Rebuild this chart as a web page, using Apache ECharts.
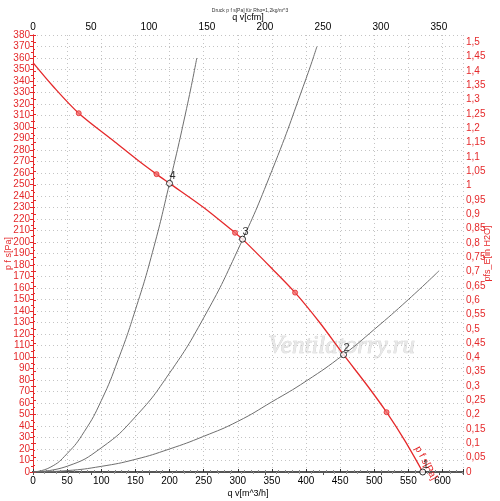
<!DOCTYPE html>
<html>
<head>
<meta charset="utf-8">
<script src="https://cdn.jsdelivr.net/npm/echarts@6/dist/echarts.min.js"></script>
<style>
  html, body { margin: 0; padding: 0; background: #fff; }
  #chart { width: 500px; height: 501px; }
</style>
</head>
<body>
<div id="chart"></div>
<script>
// Fan curve p f s [Pa] against q v [m^3/h]
var fanQ = [0, 30, 67, 120, 156, 181, 200, 250, 296, 307, 350, 384, 420, 455, 490, 518, 545, 571];
var fanP = [356, 335, 312, 287, 270, 259, 251, 230, 208, 202.5, 177, 156, 130, 102, 75, 52, 27, 0];

// measured points drawn on the fan curve
var markQ = [67, 181, 296, 384, 518];
var markP = [312, 259, 208, 156, 52];

// system curves (grey)
var sysAQ = [0, 25, 50, 75, 100, 125, 150, 175, 200, 225, 240];
var sysAP = [0, 4, 16, 35, 62, 98, 141, 191, 251, 316, 360];
var sysBQ = [0, 50, 100, 150, 200, 250, 300, 350, 400, 416];
var sysBP = [0, 5, 21, 48, 86, 134, 193, 262, 342, 370];
var sysCQ = [0, 50, 100, 150, 200, 250, 300, 350, 400, 455, 500, 550, 595];
var sysCP = [0, 1.2, 4.9, 11, 20, 31, 44, 61, 79, 102, 124, 150, 175];

// operating points
var opLabels = ["1", "2", "3", "4"];
var opQ = [571, 455, 307, 200];
var opP = [0, 102, 202.5, 251];

var qMax = 630;         // m^3/h
var pMax = 380;         // Pa
var cfmPerM3h = 1 / 1.699;
var paPerInH2O = 249.089;

var red = "#e5292b";

function pairs(xs, ys) {
    var out = [];
    for (var i = 0; i < xs.length; i++) {
        out.push([xs[i], ys[i]]);
    }
    return out;
}

var fanData = pairs(fanQ, fanP);
// put the curve name along the line near its end
fanData[16] = {
    value: fanData[16],
    label: {
        show: true, formatter: "p f s[Pa]", rotate: -62, color: red,
        fontSize: 10, fontFamily: "Liberation Sans", position: "right", distance: 0, offset: [11, -8]
    }
};

var opData = [];
for (var i = 0; i < opQ.length; i++) {
    opData.push({ value: [opQ[i], opP[i]], name: opLabels[i] });
}

var greyLine = { color: "#6e6e6e", width: 1 };
var font = "Liberation Sans";

var chart = echarts.init(document.getElementById("chart"));
chart.setOption({
    animation: false,
    backgroundColor: "#fff",
    title: {
        text: "Druck p f s[Pa] für Rho=1,2kg/m^3",
        left: 245, top: 3, textAlign: "center",
        textStyle: { fontSize: 5, fontWeight: "normal", color: "#333", fontFamily: font }
    },
    grid: { left: 33, right: 37, top: 35, bottom: 29, containLabel: false, outerBoundsMode: "none" },
    graphic: [{
        type: "text",
        left: 268, top: 334, silent: true,
        style: {
            text: "Ventilatorry.ru",
            font: "italic 25px 'Liberation Serif'",
            fill: "#e8e8e8", stroke: "#cfcfcf", lineWidth: 0.7
        }
    }],
    xAxis: [{
        type: "value", position: "bottom",
        min: 0, max: qMax, interval: 50,
        name: "q v[m^3/h]", nameLocation: "middle", nameGap: 17, nameMoveOverlap: false,
        nameTextStyle: { fontSize: 9, color: "#000", fontFamily: font },
        axisLine: { lineStyle: { color: "#111", width: 2 } },
        axisTick: { inside: true, length: 3, lineStyle: { color: "#333" } },
        minorTick: { show: true, splitNumber: 5, length: 2, lineStyle: { color: "#888" } },
        axisLabel: { fontSize: 10, color: "#000", margin: 4, fontFamily: font, showMaxLabel: false },
        splitLine: { show: true, lineStyle: { color: "#c4c4c4", type: [1, 3], width: 1 } }
    }, {
        type: "value", position: "top",
        min: 0, max: qMax * cfmPerM3h, interval: 50,
        name: "q v[cfm]", nameLocation: "middle", nameGap: 13, nameMoveOverlap: false,
        nameTextStyle: { fontSize: 9, color: "#000", fontFamily: font },
        axisLine: { lineStyle: { color: "#555", width: 2 } },
        axisTick: { inside: true, length: 3, lineStyle: { color: "#555" } },
        minorTick: { show: true, splitNumber: 5, length: 2, lineStyle: { color: "#999" } },
        axisLabel: { fontSize: 10, color: "#000", margin: 3, fontFamily: font, showMaxLabel: false },
        splitLine: { show: false }
    }],
    yAxis: [{
        type: "value", position: "left",
        min: 0, max: pMax, interval: 10,
        name: "p f s[Pa]", nameLocation: "middle", nameGap: 20, nameMoveOverlap: false,
        nameTextStyle: { fontSize: 9, color: red, fontFamily: font },
        axisLine: { lineStyle: { color: red, width: 1 } },
        axisTick: { length: 3, lineStyle: { color: red } },
        minorTick: { show: true, splitNumber: 2, length: 2, lineStyle: { color: red } },
        axisLabel: { fontSize: 10, color: red, margin: 3, fontFamily: font },
        splitLine: { show: true, lineStyle: { color: "#c4c4c4", type: [1, 3], width: 1 } }
    }, {
        type: "value", position: "right",
        min: 0, max: pMax / paPerInH2O, interval: 0.05,
        name: "pfs_E[in H2O]", nameLocation: "middle", nameGap: 20, nameRotate: 90, nameMoveOverlap: false,
        nameTextStyle: { fontSize: 9, color: red, fontFamily: font },
        axisLine: { lineStyle: { color: red, width: 1 } },
        axisTick: { length: 3, lineStyle: { color: red } },
        minorTick: { show: true, splitNumber: 2, length: 2, lineStyle: { color: red } },
        axisLabel: {
            fontSize: 10, color: red, margin: 3, fontFamily: font, showMaxLabel: false,
            formatter: function (v) {
                return String(+v.toFixed(2)).replace(".", ",");
            }
        },
        splitLine: { show: false }
    }],
    series: [{
        name: "system A", type: "line", smooth: true, showSymbol: false,
        data: pairs(sysAQ, sysAP), lineStyle: greyLine, z: 2
    }, {
        name: "system B", type: "line", smooth: true, showSymbol: false,
        data: pairs(sysBQ, sysBP), lineStyle: greyLine, z: 2
    }, {
        name: "system C", type: "line", smooth: true, showSymbol: false,
        data: pairs(sysCQ, sysCP), lineStyle: greyLine, z: 2
    }, {
        name: "p f s", type: "line", smooth: 0.3, showSymbol: true, symbol: "circle", symbolSize: 0,
        itemStyle: { color: red },
        data: fanData, lineStyle: { color: red, width: 1.3 }, z: 3
    }, {
        name: "measured", type: "scatter", symbol: "circle", symbolSize: 5,
        data: pairs(markQ, markP),
        itemStyle: { color: "#f07070", borderColor: red, borderWidth: 1 }, z: 4
    }, {
        name: "operating", type: "scatter", symbol: "circle", symbolSize: 6,
        data: opData,
        itemStyle: { color: "#fff", borderColor: "#000", borderWidth: 1 },
        label: {
            show: true, formatter: "{b}", position: "top", distance: 0, offset: [3, 2],
            fontSize: 11, color: "#000", fontFamily: font
        },
        z: 5
    }]
});
</script>
</body>
</html>
